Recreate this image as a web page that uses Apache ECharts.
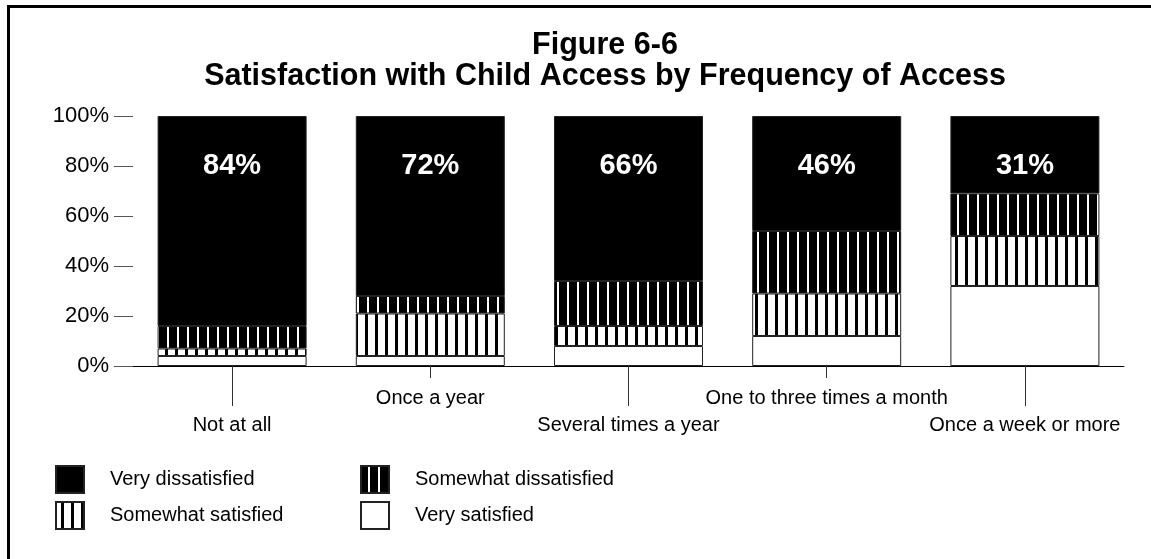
<!DOCTYPE html>
<html>
<head>
<meta charset="utf-8">
<script src="https://cdn.jsdelivr.net/npm/echarts@6/dist/echarts.min.js"></script>
<style>
  html, body { margin: 0; padding: 0; background: #fff; }
  #chart { width: 1151px; height: 559px; }
</style>
</head>
<body>
<div id="chart"></div>
<script>
var categories = ['Not at all', 'Once a year', 'Several times a year', 'One to three times a month', 'Once a week or more']
var verySatisfied = [4, 4, 8, 12, 32]
var somewhatSatisfied = [3, 17, 8, 17, 20]
var somewhatDissatisfied = [9, 7, 18, 25, 17]
var veryDissatisfied = [84, 72, 66, 46, 31]

var FONT = '"Liberation Sans", Arial, sans-serif'

// striped fills, one period = 10px
function stripes(bg, fg, x, w){
    var c = document.createElement('canvas')
    c.width = 10
    c.height = 10
    var ctx = c.getContext('2d')
    ctx.fillStyle = bg
    ctx.fillRect(0, 0, 10, 10)
    ctx.fillStyle = fg
    ctx.fillRect(x, 0, w, 10)
    return { image: c, repeat: 'repeat' }
}

var darkStripes = stripes('#000', '#fff', 7, 2)
var lightStripes = stripes('#fff', '#000', 5, 3)

function barSeries(name, values, fill){
    return {
        name: name,
        type: 'bar',
        stack: 'total',
        barWidth: 149,
        data: values,
        itemStyle: { color: fill, borderColor: '#222', borderWidth: 1 }
    }
}

var series = [
    barSeries('Very satisfied', verySatisfied, '#fff'),
    barSeries('Somewhat satisfied', somewhatSatisfied, lightStripes),
    barSeries('Somewhat dissatisfied', somewhatDissatisfied, darkStripes),
    barSeries('Very dissatisfied', veryDissatisfied, '#000')
]
series[3].label = {
    show: true,
    position: 'insideTop',
    distance: 35,
    color: '#fff',
    fontFamily: FONT,
    fontWeight: 'bold',
    fontSize: 29,
    formatter: '{c}%'
}

function legendBox(left, names){
    return {
        left: left,
        top: 460,
        orient: 'vertical',
        itemWidth: 28,
        itemHeight: 27,
        itemGap: 7,
        icon: 'rect',
        selectedMode: false,
        data: names,
        textStyle: { fontFamily: FONT, fontSize: 20, color: '#000', padding: [0, 0, 0, 21] }
    }
}

var option = {
    animation: false,
    backgroundColor: '#fff',
    title: {
        text: 'Figure 6-6\nSatisfaction with Child Access by Frequency of Access',
        left: 600,
        top: 25,
        textAlign: 'center',
        textStyle: { fontFamily: FONT, fontWeight: 'bold', fontSize: 30.5, lineHeight: 31, color: '#000' }
    },
    legend: [
        legendBox(50, ['Very dissatisfied', 'Somewhat satisfied']),
        legendBox(355, ['Somewhat dissatisfied', 'Very satisfied'])
    ],
    grid: { left: 133, right: 27, top: 116, bottom: 193 },
    xAxis: [
        {
            type: 'category',
            position: 'bottom',
            data: categories,
            axisLine: { lineStyle: { color: '#000', width: 1 } },
            axisTick: {
                show: true,
                alignWithLabel: true,
                length: 12,
                interval: function(i){ return i % 2 === 1 },
                lineStyle: { color: '#333' }
            },
            axisLabel: {
                interval: 0,
                margin: 19,
                fontFamily: FONT,
                fontSize: 20,
                lineHeight: 27,
                color: '#000',
                formatter: function(v, i){ return i % 2 === 0 ? '\n' + v : v }
            }
        },
        {
            type: 'category',
            position: 'bottom',
            data: categories,
            axisLine: { show: false },
            axisTick: {
                show: true,
                alignWithLabel: true,
                length: 40,
                interval: function(i){ return i % 2 === 0 },
                lineStyle: { color: '#333' }
            },
            axisLabel: { show: false }
        }
    ],
    yAxis: {
        type: 'value',
        min: 0,
        max: 100,
        interval: 20,
        axisLine: { show: false },
        axisTick: { show: true, length: 19, lineStyle: { color: '#555' } },
        splitLine: { show: false },
        axisLabel: { margin: 24, fontFamily: FONT, fontSize: 22, color: '#000', formatter: '{value}%' }
    },
    series: series,
    graphic: [
        { type: 'rect', shape: { x: 7, y: 5, width: 1144, height: 3 }, style: { fill: '#000' } },
        { type: 'rect', shape: { x: 7, y: 5, width: 3, height: 554 }, style: { fill: '#000' } }
    ]
}

var myChart = echarts.init(document.getElementById('chart'))
myChart.setOption(option)
</script>
</body>
</html>
